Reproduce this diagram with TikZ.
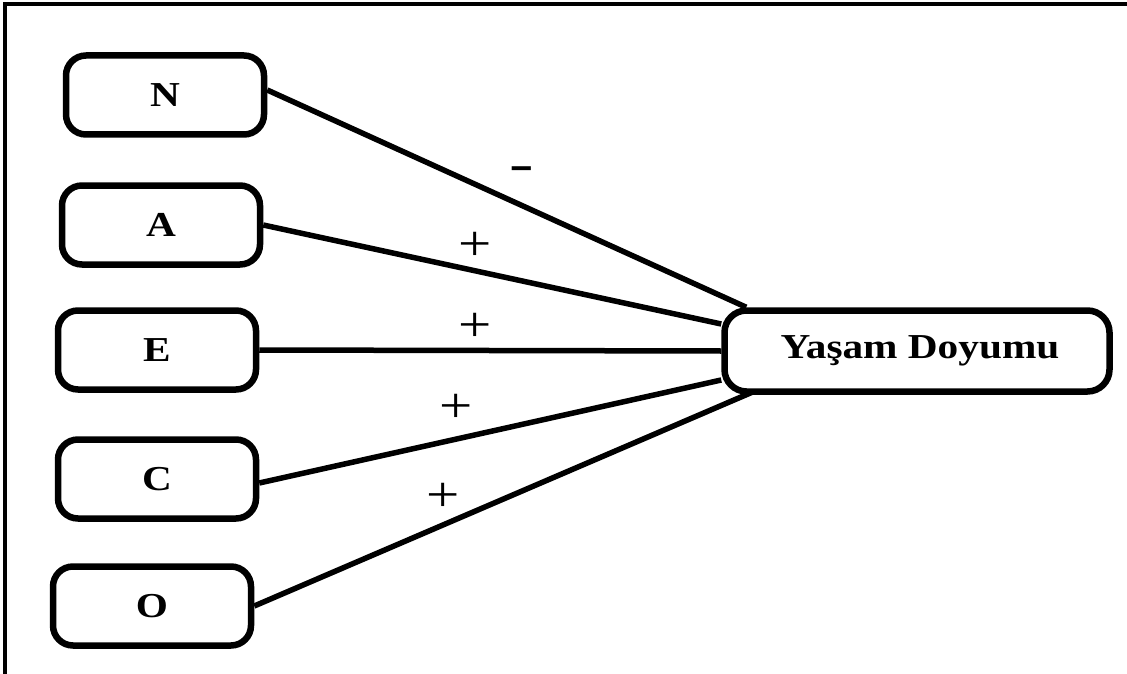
\documentclass[tikz,border=0pt]{standalone}
\usepackage{fontspec}
\usepackage{graphicx}
\setmainfont{Liberation Serif}
\usetikzlibrary{calc}
\newcommand{\wideTxt}[1]{\scalebox{1.18}[1]{#1}}
\begin{document}
\begin{tikzpicture}[x=1pt,y=-1pt,
  trait/.style={draw=black, line width=6.5pt, rounded corners=20pt, minimum width=198pt, minimum height=79pt, inner sep=0pt, font=\bfseries\fontsize{35}{40}\selectfont},
  outcome/.style={draw=black, line width=6.5pt, rounded corners=22pt, minimum width=385pt, minimum height=81pt, inner sep=0pt, font=\bfseries\fontsize{35}{40}\selectfont},
  link/.style={draw=black, line width=5.5pt},
  sign/.style={inner sep=0pt, font=\fontsize{50}{54}\selectfont},
  frame/.style={draw=black, line width=3.5pt}]
\useasboundingbox (0,0) rectangle (1127,674);
\draw[frame] (5,674) -- (5,4) -- (1127,4);
\node[trait] (N) at (165,95) {\wideTxt{N}};
\node[trait] (A) at (161,225) {\wideTxt{A}};
\node[trait] (E) at (157,350) {\wideTxt{E}};
\node[trait] (C) at (157,479) {\wideTxt{C}};
\node[trait] (O) at (152,606) {\wideTxt{O}};
\node[outcome] (Y) at (917,351) {\hspace{6pt}\wideTxt{Yaşam Doyumu}};
\draw[link] ($(N.east)+(0,-5)$) -- ($(Y.north west)+(25,0)$);
\draw[link] (A.east) -- ($(Y.west)+(0,-27)$);
\draw[link] (E.east) -- (Y.west);
\draw[link] ($(C.east)+(0,4)$) -- ($(Y.west)+(0,29)$);
\draw[link] (O.east) -- ($(Y.south west)+(32,-3)$);
\node[sign, font=\bfseries\fontsize{46}{50}\selectfont] (sn) at (522,173) {\scalebox{1.6}[1]{-}};
\node[sign] (sa) at (475,246) {\wideTxt{+}};
\node[sign] (se) at (475,327) {\wideTxt{+}};
\node[sign] (sc) at (456,408) {\wideTxt{+}};
\node[sign] (so) at (443,497) {\wideTxt{+}};
\end{tikzpicture}
\end{document}
